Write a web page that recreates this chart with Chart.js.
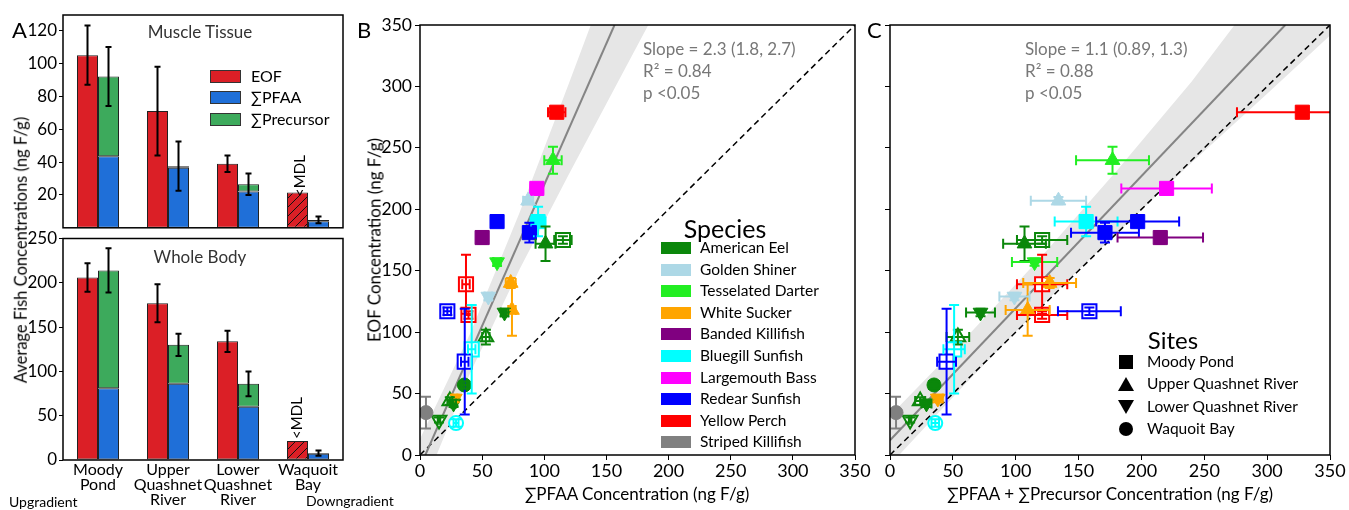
<!DOCTYPE html>
<html>
<head>
<meta charset="utf-8">
<script src="https://cdn.jsdelivr.net/npm/chart.js@4.4.0/dist/chart.umd.min.js"></script>
<style>
body { margin: 0; background: #fff; }
#fig { position: relative; width: 1349px; height: 510px; overflow: hidden; font-family: Lato, "Open Sans", sans-serif; }
#fig canvas { position: absolute; }
.t { position: absolute; white-space: nowrap; line-height: 1; color: #000; }
.sw { position: absolute; }
</style>
</head>
<body>
<div id="fig">
  <canvas id="aTop" width="360" height="240" style="left:0;top:0"></canvas>
  <canvas id="aBot" width="360" height="286" style="left:0;top:224px"></canvas>
  <canvas id="pB" width="515" height="510" style="left:360px;top:0"></canvas>
  <canvas id="pC" width="489" height="510" style="left:860px;top:0"></canvas>
</div>
<script>
// ---- panel A data (site averages, ng F/g) ----
const siteLabels = [['Moody', 'Pond'], ['Upper', 'Quashnet', 'River'], ['Lower', 'Quashnet', 'River'], ['Waquoit', 'Bay']];
const belowMDL = [false, false, false, true];
const muscleEOF = [105, 71, 39, 21.5];
const muscleEOFErr = [18, 27, 5, 0];
const musclePFAA = [43.5, 36.5, 22, 4];
const musclePrec = [48.5, 1, 4.5, 0.8];
const muscleSumErr = [18, 15, 6.5, 2];
const wholeEOF = [206, 177, 134, 21.5];
const wholeEOFErr = [16, 21.5, 12, 0];
const wholePFAA = [81, 86, 60, 7];
const wholePrec = [133, 44, 26, 0.8];
const wholeSumErr = [25, 12.5, 14, 3];
const muscleTicks = [20, 40, 60, 80, 100, 120];
const wholeTicks = [0, 50, 100, 150, 200, 250];

// ---- panels B/C data ----
const speciesNames = ['American Eel', 'Golden Shiner', 'Tesselated Darter', 'White Sucker', 'Banded Killifish',
  'Bluegill Sunfish', 'Largemouth Bass', 'Redear Sunfish', 'Yellow Perch', 'Striped Killifish'];
const siteNames = ['Moody Pond', 'Upper Quashnet River', 'Lower Quashnet River', 'Waquoit Bay'];
// one entry per sample point
const ptSpecies = [8, 2, 6, 1, 5, 7, 7, 4, 0, 0, 2, 8, 8, 3, 3, 3, 1, 0, 0, 5, 7, 7, 0, 0, 0, 0, 5, 9];
const ptSite    = [0, 1, 0, 1, 0, 0, 0, 0, 1, 0, 2, 0, 0, 1, 1, 2, 2, 2, 1, 0, 0, 0, 3, 1, 2, 2, 3, 3];
const ptHollow  = [0, 0, 0, 0, 0, 0, 0, 0, 0, 1, 0, 1, 1, 0, 0, 0, 0, 0, 1, 1, 1, 1, 0, 1, 0, 1, 1, 0];
const ptPFAA    = [110, 107, 94, 87, 95, 62, 88, 50, 101, 115, 62, 37, 39, 73, 74, 28, 55, 68, 53, 41.6, 36, 22, 35.7, 24, 27, 15.3, 29, 4.8];
const ptPFAAErr = [7, 7, 5, 4, 6, 3, 5, 3, 8, 7, 3, 3, 3, 4, 3, 2, 3, 3, 3, 3, 3, 3, 2, 2, 2, 1, 2, 0];
const ptTotal   = [328, 177, 220, 134, 156, 197, 171, 215, 107, 121, 115, 121, 121, 127, 109.5, 38, 99, 72, 54, 51, 45, 158.6, 35, 24, 29, 16, 36, 4.8];
const ptTotalErr = [52, 29, 36, 22, 25, 33, 27, 34, 17, 20, 18, 20, 20, 21, 17.5, 4, 12, 11.5, 9, 8.5, 7.5, 25, 4, 4, 4, 1, 3, 0];
const ptEOF     = [279, 240, 217, 207, 190, 190, 181, 177, 172, 175, 157, 139, 114, 140, 118, 46, 129, 116, 96, 86, 76, 117, 57, 44, 42, 28.5, 26, 34.5];
const ptEOFErr  = [3, 11, 3, 3, 12, 3, 8, 5, 14, 3, 3, 24, 3, 4, 21, 3, 3, 3, 6, 36, 43, 3, 3, 3, 3, 2, 3, 13];

// regression lines and their confidence bands (x, y in ng F/g)
const fitB = [[4.3, 0], [156.5, 350]];
const fitC = [[0, 12], [314.4, 350]];
const oneToOne = [[0, 0], [350, 350]];
const bandBx = [0, 40, 80, 120, 160, 200];
const bandBhi = [13, 98, 197, 303, 411, 519];
const bandBlo = [-33, 66, 151, 229, 305, 381];
const bandCx = [0, 60, 120, 180, 240, 300, 360];
const bandChi = [32, 95, 161, 231, 304, 385, 460];
const bandClo = [-8, 58, 121, 180, 238, 294, 351];
const axisTicks = [0, 50, 100, 150, 200, 250, 300, 350];

const RED = '#db1f26', BLUE = '#1f6fd8', GREEN = '#3daa5c';
const speciesColors = ['#0b870b', '#add8e6', '#22ee22', '#ffa500', '#800080', '#00ffff', '#ff00ff', '#0000ff', '#ff0000', '#808080'];
const MARKERS = ['rect', 'triangle', 'triangle', 'circle'];
const RADII = [10, 8.5, 8.5, 7];

Chart.defaults.font.family = 'Lato, "Open Sans", sans-serif';
Chart.defaults.color = '#000';
Chart.defaults.animation = false;

const frame = {
  id: 'frame',
  afterDraw(chart) {
    const { ctx, chartArea: a } = chart;
    ctx.save();
    ctx.strokeStyle = '#000';
    ctx.lineWidth = 1.5;
    ctx.strokeRect(a.left, a.top, a.right - a.left, a.bottom - a.top);
    ctx.restore();
  }
};

function makeHatch() {
  const c = document.createElement('canvas');
  c.width = 9; c.height = 9;
  const g = c.getContext('2d');
  g.fillStyle = RED;
  g.fillRect(0, 0, 9, 9);
  g.strokeStyle = '#111';
  g.lineWidth = 1;
  g.beginPath();
  g.moveTo(0, 9); g.lineTo(9, 0);
  g.moveTo(-3, 3); g.lineTo(3, -3);
  g.moveTo(6, 12); g.lineTo(12, 6);
  g.stroke();
  return g.createPattern(c, 'repeat');
}
const hatch = makeHatch();

// error bars on the grouped bars
const barErr = {
  id: 'barErr',
  afterDatasetsDraw(chart, args, opts) {
    const { ctx, scales: { y } } = chart;
    ctx.save();
    ctx.strokeStyle = '#000';
    ctx.lineWidth = 2;
    const draw = (x, v, e) => {
      if (!e) return;
      const y1 = y.getPixelForValue(v - e), y2 = y.getPixelForValue(v + e);
      ctx.beginPath();
      ctx.moveTo(x, y1); ctx.lineTo(x, y2);
      ctx.moveTo(x - 3, y1); ctx.lineTo(x + 3, y1);
      ctx.moveTo(x - 3, y2); ctx.lineTo(x + 3, y2);
      ctx.stroke();
    };
    const m0 = chart.getDatasetMeta(0), m1 = chart.getDatasetMeta(1);
    opts.eof.forEach((v, i) => draw(m0.data[i].x, v, opts.eofErr[i]));
    opts.pfaa.forEach((v, i) => draw(m1.data[i].x, v + opts.prec[i], opts.sumErr[i]));
    ctx.restore();
  }
};

function barChart(id, eof, eofErr, pfaa, prec, sumErr, ticks, max, bottom) {
  return new Chart(document.getElementById(id), {
    type: 'bar',
    data: {
      labels: siteLabels,
      datasets: [
        { label: 'EOF', data: eof, stack: 'eof', backgroundColor: eof.map((v, i) => belowMDL[i] ? hatch : RED) },
        { label: '∑PFAA', data: pfaa, stack: 'sum', backgroundColor: BLUE },
        { label: '∑Precursor', data: prec, stack: 'sum', backgroundColor: GREEN }
      ]
    },
    options: {
      responsive: false,
      layout: { padding: bottom ? { top: 14.5, right: 17 } : { top: 15, right: 17, bottom: 0.7 } },
      datasets: { bar: { borderColor: '#222', borderWidth: 1, borderSkipped: false, barPercentage: 1, categoryPercentage: 0.6 } },
      plugins: {
        legend: { display: false }, tooltip: { enabled: false },
        barErr: { eof, eofErr, pfaa, prec, sumErr }
      },
      scales: {
        x: {
          stacked: true, display: bottom,
          grid: { display: false, drawTicks: false }, border: { display: false },
          ticks: { font: { size: 16, lineHeight: 0.95 }, padding: 2, maxRotation: 0, autoSkip: false },
          afterFit: s => { if (bottom) s.height = 50; }
        },
        y: {
          stacked: true, min: 0, max,
          afterBuildTicks: s => { s.ticks = ticks.map(v => ({ value: v })); },
          afterFit: s => { s.width = 63; },
          ticks: { font: { size: 17 }, padding: 2 },
          grid: { drawOnChartArea: false, tickLength: 4, color: '#000' },
          border: { display: false }
        }
      }
    },
    plugins: [barErr, frame]
  });
}

barChart('aTop', muscleEOF, muscleEOFErr, musclePFAA, musclePrec, muscleSumErr, muscleTicks, 129.4, false);
barChart('aBot', wholeEOF, wholeEOFErr, wholePFAA, wholePrec, wholeSumErr, wholeTicks, 250, true);

// ---- scatter panels ----
function bandPlugin(bx, hi, lo) {
  return {
    id: 'band',
    beforeDatasetsDraw(chart) {
      const { ctx, chartArea: a, scales: { x, y } } = chart;
      ctx.save();
      ctx.beginPath();
      ctx.rect(a.left, a.top, a.right - a.left, a.bottom - a.top);
      ctx.clip();
      ctx.beginPath();
      bx.forEach((v, i) => ctx.lineTo(x.getPixelForValue(v), y.getPixelForValue(hi[i])));
      for (let i = bx.length - 1; i >= 0; i--) ctx.lineTo(x.getPixelForValue(bx[i]), y.getPixelForValue(lo[i]));
      ctx.closePath();
      ctx.fillStyle = '#e6e6e6';
      ctx.fill();
      ctx.restore();
    }
  };
}

function errPlugin(xs, xe) {
  return {
    id: 'ptErr',
    afterDatasetsDraw(chart) {
      const { ctx, chartArea: a, scales: { x, y } } = chart;
      ctx.save();
      ctx.beginPath();
      ctx.rect(a.left, a.top, a.right - a.left, a.bottom - a.top);
      ctx.clip();
      ctx.lineWidth = 2;
      ptEOF.forEach((v, i) => {
        ctx.strokeStyle = speciesColors[ptSpecies[i]];
        const px = x.getPixelForValue(xs[i]), py = y.getPixelForValue(v);
        ctx.beginPath();
        if (xe[i]) {
          const x1 = x.getPixelForValue(xs[i] - xe[i]), x2 = x.getPixelForValue(xs[i] + xe[i]);
          ctx.moveTo(x1, py); ctx.lineTo(x2, py);
          ctx.moveTo(x1, py - 5); ctx.lineTo(x1, py + 5);
          ctx.moveTo(x2, py - 5); ctx.lineTo(x2, py + 5);
        }
        if (ptEOFErr[i]) {
          const y1 = y.getPixelForValue(v - ptEOFErr[i]), y2 = y.getPixelForValue(v + ptEOFErr[i]);
          ctx.moveTo(px, y1); ctx.lineTo(px, y2);
          ctx.moveTo(px - 5, y1); ctx.lineTo(px + 5, y1);
          ctx.moveTo(px - 5, y2); ctx.lineTo(px + 5, y2);
        }
        ctx.stroke();
      });
      ctx.restore();
    }
  };
}

function scatterChart(id, xs, xe, fit, band, showY, yWidth, padRight) {
  const col = c => speciesColors[ptSpecies[c.dataIndex]];
  return new Chart(document.getElementById(id), {
    type: 'scatter',
    data: {
      datasets: [
        {
          data: ptEOF.map((v, i) => ({ x: xs[i], y: v })),
          pointStyle: c => MARKERS[ptSite[c.dataIndex]],
          pointRotation: c => ptSite[c.dataIndex] === 2 ? 180 : 0,
          pointRadius: c => RADII[ptSite[c.dataIndex]],
          pointHoverRadius: c => RADII[ptSite[c.dataIndex]],
          pointBackgroundColor: c => ptHollow[c.dataIndex] ? '#fff' : col(c),
          pointBorderColor: col,
          pointBorderWidth: c => ptHollow[c.dataIndex] ? 2 : 1
        },
        {
          data: fit.map(p => ({ x: p[0], y: p[1] })),
          showLine: true, pointRadius: 0, borderColor: '#858585', borderWidth: 2
        },
        {
          data: oneToOne.map(p => ({ x: p[0], y: p[1] })),
          showLine: true, pointRadius: 0, borderColor: '#000', borderWidth: 1.5, borderDash: [6, 4]
        }
      ]
    },
    options: {
      responsive: false,
      layout: { padding: { top: 25, right: padRight } },
      plugins: { legend: { display: false }, tooltip: { enabled: false } },
      scales: {
        x: {
          min: 0, max: 350,
          afterBuildTicks: s => { s.ticks = axisTicks.map(v => ({ value: v })); },
          afterFit: s => { s.height = 55; },
          ticks: { font: { size: 18 }, padding: 0 },
          grid: { drawOnChartArea: false, tickLength: 5, color: '#000' },
          border: { display: false }
        },
        y: {
          min: 0, max: 350,
          afterBuildTicks: s => { s.ticks = axisTicks.map(v => ({ value: v })); },
          afterFit: s => { s.width = yWidth; },
          ticks: { font: { size: 17.5 }, padding: 3, callback: v => showY ? v : '' },
          grid: { drawOnChartArea: false, tickLength: 5, color: '#000' },
          border: { display: false }
        }
      }
    },
    plugins: [bandPlugin(band[0], band[1], band[2]), errPlugin(xs, xe), frame]
  });
}

scatterChart('pB', ptPFAA, ptPFAAErr, fitB, [bandBx, bandBhi, bandBlo], true, 60, 20);
scatterChart('pC', ptTotal, ptTotalErr, fitC, [bandCx, bandChi, bandClo], false, 30, 19);

// ---- text and legends ----
const fig = document.getElementById('fig');
function put(text, x, y, o = {}) {
  const d = document.createElement('div');
  d.className = 't';
  d.textContent = text;
  d.style.left = x + 'px';
  d.style.top = y + 'px';
  d.style.fontSize = (o.size || 15) + 'px';
  if (o.color) d.style.color = o.color;
  if (o.weight) d.style.fontWeight = o.weight;
  const ax = o.center || o.rot ? '-50%' : '0';
  d.style.transform = 'translate(' + ax + ',-50%)' + (o.rot ? ' rotate(-90deg)' : '');
  fig.appendChild(d);
}
function box(x, y, w, h, css) {
  const d = document.createElement('div');
  d.className = 'sw';
  d.style.cssText += 'left:' + x + 'px;top:' + y + 'px;width:' + w + 'px;height:' + h + 'px;' + css;
  fig.appendChild(d);
}

put('A', 12, 30, { size: 22 });
put('B', 357, 30, { size: 22 });
put('C', 867, 30, { size: 22 });

put('Muscle Tissue', 200, 31, { size: 17, center: true, color: '#333' });
put('Whole Body', 200, 256, { size: 17, center: true, color: '#333' });
put('<MDL', 299, 176, { size: 15, rot: true });
put('<MDL', 296, 418, { size: 15, rot: true });
put('Average Fish Concentrations (ng F/g)', 21, 250, { size: 16.5, rot: true });
put('Upgradient', 9, 502, { size: 14 });
put('Downgradient', 306, 501, { size: 14 });

[['EOF', RED], ['∑PFAA', BLUE], ['∑Precursor', GREEN]].forEach((e, i) => {
  const cy = 76 + i * 21.3;
  box(210, cy - 6, 29, 11, 'background:' + e[1] + ';border:1px solid #333;');
  put(e[0], 251, cy, { size: 16 });
});

put('EOF Concentration (ng F/g)', 374, 240, { size: 17, rot: true });
put('∑PFAA Concentration (ng F/g)', 637, 493, { size: 17, center: true });
put('∑PFAA + ∑Precursor Concentration (ng F/g)', 1110, 493, { size: 17, center: true });

put('Slope = 2.3 (1.8, 2.7)', 643, 48, { size: 17, color: '#777' });
put('R² = 0.84', 643, 70, { size: 17, color: '#777' });
put('p <0.05', 643, 92, { size: 17, color: '#777' });
put('Slope = 1.1 (0.89, 1.3)', 1025, 48, { size: 17, color: '#777' });
put('R² = 0.88', 1025, 70, { size: 17, color: '#777' });
put('p <0.05', 1025, 92, { size: 17, color: '#777' });

put('Species', 725, 228, { size: 25, center: true });
speciesNames.forEach((s, i) => {
  const cy = 248 + i * 21.6;
  box(661, cy - 6, 30, 12, 'background:' + speciesColors[i] + ';');
  put(s, 700, cy, { size: 15.5 });
});

put('Sites', 1173, 340, { size: 24, center: true });
const siteShapes = [
  'background:#000;width:14px;height:14px;',
  'width:0;height:0;border-left:8px solid transparent;border-right:8px solid transparent;border-bottom:14px solid #000;',
  'width:0;height:0;border-left:8px solid transparent;border-right:8px solid transparent;border-top:14px solid #000;',
  'background:#000;width:14px;height:14px;border-radius:50%;'
];
siteNames.forEach((s, i) => {
  const cy = 362 + i * 22.3;
  const d = document.createElement('div');
  d.className = 'sw';
  d.style.cssText = 'left:1126px;top:' + cy + 'px;transform:translate(-50%,-50%);' + siteShapes[i];
  fig.appendChild(d);
  put(s, 1147, cy, { size: 15.5 });
});
</script>
</body>
</html>
